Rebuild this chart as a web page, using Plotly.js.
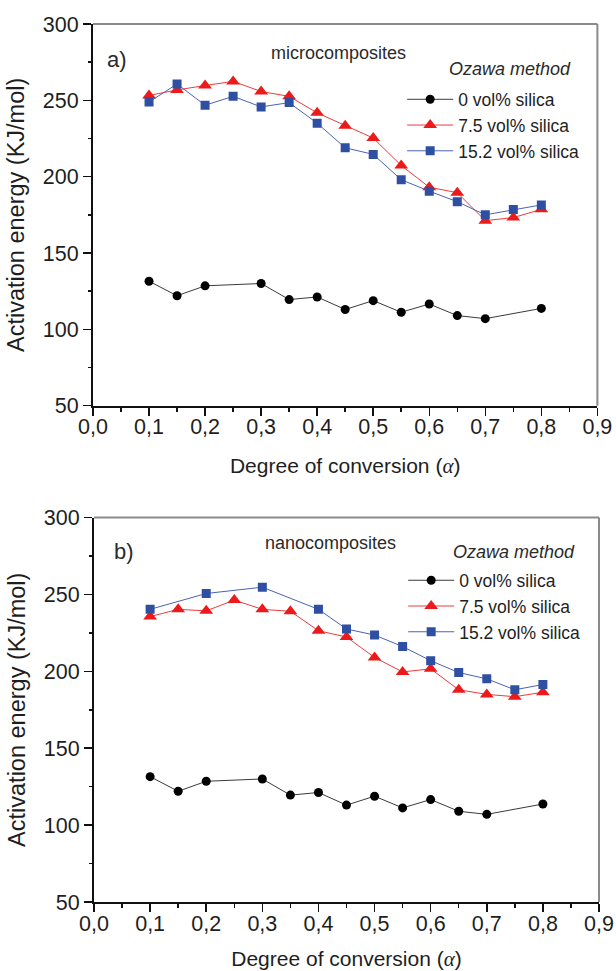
<!DOCTYPE html>
<html>
<head>
<meta charset="utf-8">
<script src="https://cdn.plot.ly/plotly-3.0.1.min.js"></script>
<style>html,body{margin:0;padding:0;background:#fff;}#chart{width:616px;height:971px;}</style>
</head>
<body>
<div id="chart"></div>
<script>
// ---- data ----
const alphaFull = [0.1, 0.15, 0.2, 0.25, 0.3, 0.35, 0.4, 0.45, 0.5, 0.55, 0.6, 0.65, 0.7, 0.75, 0.8];
const alphaNeat = [0.1, 0.15, 0.2, 0.3, 0.35, 0.4, 0.45, 0.5, 0.55, 0.6, 0.65, 0.7, 0.8];
const alphaNano152 = [0.1, 0.2, 0.3, 0.4, 0.45, 0.5, 0.55, 0.6, 0.65, 0.7, 0.75, 0.8];

const neatEa = [131.5, 122, 128.5, 130, 119.5, 121.2, 113, 118.8, 111.2, 116.6, 109, 107, 113.7];
const micro75Ea = [253.2, 256.8, 259.7, 262.4, 255.8, 252.6, 241.8, 233.3, 225.3, 207.3, 193.1, 189.5, 171.2, 173.2, 178.6];
const micro152Ea = [248.9, 260.7, 246.8, 252.6, 245.7, 248.5, 235, 218.9, 214.6, 198, 190.5, 183.6, 175, 178.5, 181.5];
const nano75Ea = [235.6, 240.3, 239.3, 246.3, 240.3, 239, 226.4, 222.3, 209, 199.6, 201.6, 188, 185, 183.5, 186.4];
const nano152Ea = [240.3, 250.6, 254.7, 240.3, 227.5, 223.6, 216.1, 206.9, 199.2, 195.1, 188, 191.4];

const seriesNames = ['0 vol% silica', '7.5 vol% silica', '15.2 vol% silica'];
const panelLabels = ['a)', 'b)'];
const panelTitles = ['microcomposites', 'nanocomposites'];
const methodLabel = 'Ozawa method';
const xTitle = 'Degree of conversion (<span style="font-family:\'Liberation Serif\',serif"><i>α</i></span>)';
const yTitle = 'Activation energy (KJ/mol)';

// ---- styles ----
const FONT = 'Liberation Sans, Arial, sans-serif';
const TXT = '#1e1e1e';
const blackStyle = {line: {color: '#3a3a3a', width: 1}, marker: {symbol: 'circle', size: 9, color: '#000'}};
const redStyle = {line: {color: '#f03a3a', width: 1}, marker: {symbol: 'triangle-up', size: 12, color: '#ec1a1a'}};
const blueStyle = {line: {color: '#4a63b3', width: 1}, marker: {symbol: 'square', size: 9, color: '#2f4fa3'}};

function tr(x, y, name, style, xa, ya, lg) {
  return Object.assign({type: 'scatter', mode: 'lines+markers', x: x, y: y, name: name,
    xaxis: xa, yaxis: ya, legend: lg, showlegend: true}, JSON.parse(JSON.stringify(style)));
}

const data = [
  tr(alphaNeat, neatEa, seriesNames[0], blackStyle, 'x', 'y', 'legend'),
  tr(alphaFull, micro75Ea, seriesNames[1], redStyle, 'x', 'y', 'legend'),
  tr(alphaFull, micro152Ea, seriesNames[2], blueStyle, 'x', 'y', 'legend'),
  tr(alphaNeat, neatEa, seriesNames[0], blackStyle, 'x2', 'y2', 'legend2'),
  tr(alphaFull, nano75Ea, seriesNames[1], redStyle, 'x2', 'y2', 'legend2'),
  tr(alphaNano152, nano152Ea, seriesNames[2], blueStyle, 'x2', 'y2', 'legend2')
];

function xAxis(anchor, domain) {
  return {
    anchor: anchor, domain: domain, range: [0, 0.9], dtick: 0.1, tick0: 0, tickformat: '.1f',
    showline: true, linecolor: '#111', linewidth: 2, mirror: false, showgrid: false, zeroline: false,
    ticks: 'outside', ticklen: 8, tickwidth: 1.5, tickcolor: '#111', ticklabelstandoff: -7,
    minor: {dtick: 0.05, tick0: 0, ticks: 'outside', ticklen: 4, tickwidth: 1.5, tickcolor: '#111', showgrid: false},
    tickfont: {family: FONT, size: 21.5, color: TXT},
    title: {text: xTitle, font: {family: FONT, size: 21, color: TXT}, standoff: 20},
    automargin: false
  };
}
function yAxis(anchor, domain) {
  return {
    anchor: anchor, domain: domain, range: [50, 300], dtick: 50, tick0: 0,
    showline: true, linecolor: '#111', linewidth: 2, mirror: false, showgrid: false, zeroline: false,
    ticks: 'outside', ticklen: 8, tickwidth: 1.5, tickcolor: '#111',
    minor: {dtick: 25, tick0: 0, ticks: 'outside', ticklen: 3, tickwidth: 1.5, tickcolor: '#111', showgrid: false},
    tickfont: {family: FONT, size: 21.5, color: TXT},
    title: {text: yTitle, font: {family: FONT, size: 23.5, color: TXT}, standoff: 12},
    automargin: false
  };
}

function borderShapes(xa, ya) {
  const s = {color: '#8a8a8a', width: 2};
  return [
    {type: 'line', xref: xa + ' domain', yref: ya + ' domain', x0: 0, x1: 1, y0: 1, y1: 1, line: s},
    {type: 'line', xref: xa + ' domain', yref: ya + ' domain', x0: 1, x1: 1, y0: 0, y1: 1, line: s}
  ];
}

function ann(text, x, y, size, italic, xanchor) {
  return {text: italic ? '<i>' + text + '</i>' : text, xref: 'paper', yref: 'paper', x: x, y: y,
    xanchor: xanchor || 'center', yanchor: 'middle', showarrow: false,
    font: {family: FONT, size: size, color: '#2a2a2a'}};
}

const legendFont = {family: FONT, size: 17.5, color: TXT};

const layout = {
  width: 616, height: 971,
  margin: {l: 93, r: 17, t: 24, b: 69},
  paper_bgcolor: '#fff', plot_bgcolor: '#fff',
  separators: ', ',
  font: {family: FONT, color: TXT},
  xaxis: xAxis('y', [0, 0.9968]),
  yaxis: yAxis('x', [0.5653, 1]),
  xaxis2: xAxis('y2', [0.002, 1]),
  yaxis2: yAxis('x2', [0, 0.4379]),
  shapes: borderShapes('x', 'y').concat(borderShapes('x2', 'y2')),
  legend: {x: 0.611, y: 0.9346, xanchor: 'left', yanchor: 'top', bgcolor: 'rgba(0,0,0,0)',
    font: legendFont, itemwidth: 46, tracegroupgap: 0, traceorder: 'normal'},
  legend2: {x: 0.613, y: 0.3868, xanchor: 'left', yanchor: 'top', bgcolor: 'rgba(0,0,0,0)',
    font: legendFont, itemwidth: 46, tracegroupgap: 0, traceorder: 'normal'},
  annotations: [
    ann(panelLabels[0], 0.0237, 0.959, 22, false, 'left'),
    ann(panelTitles[0], 0.485, 0.967, 18, false),
    ann(methodLabel, 0.825, 0.9487, 18, true),
    ann(panelLabels[1], 0.0375, 0.399, 22, false, 'left'),
    ann(panelTitles[1], 0.47, 0.4085, 18, false),
    ann(methodLabel, 0.8314, 0.399, 18, true)
  ]
};

Plotly.newPlot('chart', data, layout, {staticPlot: true, displayModeBar: false});
</script>
</body>
</html>
